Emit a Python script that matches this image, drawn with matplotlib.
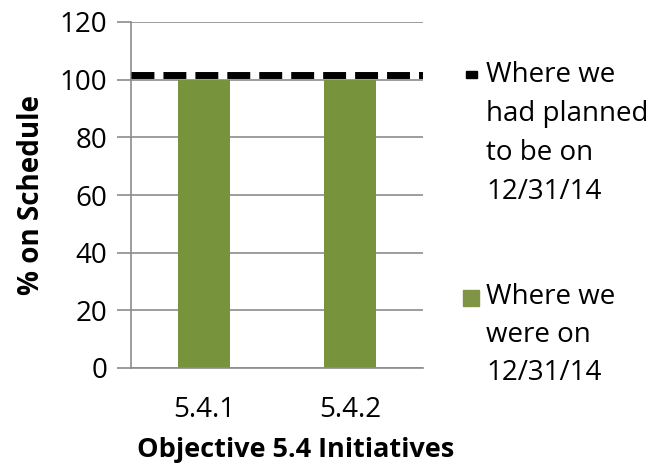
import matplotlib.pyplot as plt
from matplotlib.patches import Rectangle

plt.rcParams['font.family'] = ['Open Sans', 'DejaVu Sans']

initiatives = ['5.4.1', '5.4.2']
actual = [100, 100]
planned = 101.5
yticks = [0, 20, 40, 60, 80, 100, 120]
planned_label = ['Where we', 'had planned', 'to be on', '12/31/14']
actual_label = ['Where we', 'were on', '12/31/14']

green = '#77933c'
grey = '#8c8c8c'
fs = 20

fig = plt.figure(figsize=(6.57, 4.72), dpi=100)
ax = fig.add_axes([131 / 657, 1 - 368 / 472, 292 / 657, 346 / 472])

x = range(len(initiatives))
ax.bar(x, actual, width=0.36, color=green, zorder=2)
ax.axhline(planned, color='black', lw=5, dashes=(3.3, 1.3), zorder=3)

ax.set_xlim(-0.5, 1.5)
ax.set_ylim(0, 120)
ax.set_yticks(yticks)
ax.set_xticks(list(x))
ax.set_xticklabels(initiatives)
ax.yaxis.grid(True, color=grey, lw=1.2, zorder=0)
ax.tick_params(axis='y', length=10, width=1.2, color=grey, labelsize=fs, pad=7)
ax.tick_params(axis='x', length=0, labelsize=fs, pad=20)
for side in ['top', 'right']:
    ax.spines[side].set_visible(False)
for side in ['left', 'bottom']:
    ax.spines[side].set_color(grey)
    ax.spines[side].set_linewidth(1.2)

ax.set_ylabel('% on Schedule', fontsize=fs, fontweight='bold', labelpad=10)
ax.set_xlabel('Objective 5.4 Initiatives', fontsize=19.5, fontweight='bold')
ax.xaxis.set_label_coords(0.565, -0.2)

# legend, drawn by hand so the key sits beside the first line
W, H = 657, 472
fig.add_artist(Rectangle((466 / W, 1 - 78 / H), 11 / W, 7 / H,
                         transform=fig.transFigure, color='black'))
fig.add_artist(Rectangle((463 / W, 1 - 306 / H), 16 / W, 16 / H,
                         transform=fig.transFigure, color='#7f9445'))
for i, line in enumerate(planned_label):
    fig.text(486 / W, 1 - (75 + 39 * i) / H, line, fontsize=fs, va='center')
for i, line in enumerate(actual_label):
    fig.text(486 / W, 1 - (297 + 38 * i) / H, line, fontsize=fs, va='center')

fig.savefig('out.png', dpi=100)
